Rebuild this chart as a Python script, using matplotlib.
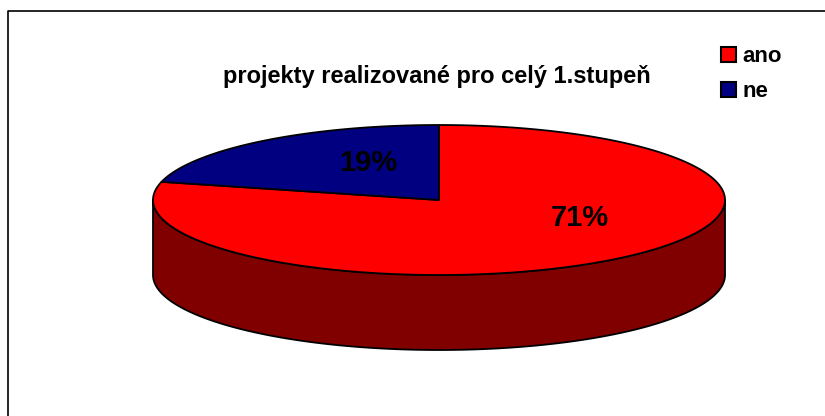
import numpy as np
import matplotlib
matplotlib.use("Agg")
import matplotlib.pyplot as plt
from matplotlib.patches import Polygon, Rectangle

labels = ["ano", "ne"]
values = [71, 19]
pct_text = ["71%", "19%"]
top_colors = ["#ff0000", "#000080"]
side_colors = ["#800000", "#000040"]
title = "projekty realizované pro celý 1.stupeň"

plt.rcParams['font.family'] = ['Liberation Sans', 'DejaVu Sans']

W, H = 825, 416
fig = plt.figure(figsize=(W / 100, H / 100), dpi=100)
ax = fig.add_axes([0, 0, 1, 1])
ax.set_xlim(0, W)
ax.set_ylim(H, 0)
ax.axis("off")

# pie geometry in pixels
cx, cy = 439, 200
a, b = 286, 75
depth = 75

def pt(t, dy=0):
    t = np.radians(t)
    return np.column_stack([cx + a * np.cos(t), cy - b * np.sin(t) + dy])

# slice angles, clockwise from 12 o'clock
vals = np.array(values, float)
spans = vals / vals.sum() * 360
starts = 90 - np.concatenate([[0], np.cumsum(spans)[:-1]])
ends = starts - spans

# side walls (only the front half, 180..360 deg, is visible)
for s, e, col in zip(starts, ends, side_colors):
    lo, hi = min(s, e), max(s, e)
    for k in (-360, 0):
        l2, h2 = max(lo + k, -180), min(hi + k, 0)
        if h2 > l2:
            t = np.linspace(l2, h2, 200)
            poly = np.vstack([pt(t), pt(t[::-1], depth)])
            ax.add_patch(Polygon(poly, closed=True, fc=col, ec="black", lw=1.3, joinstyle="round"))

# top faces
for s, e, col in zip(starts, ends, top_colors):
    t = np.linspace(s, e, 300)
    poly = np.vstack([[[cx, cy]], pt(t)])
    ax.add_patch(Polygon(poly, closed=True, fc=col, ec="black", lw=1.3, joinstyle="round"))

# percentage labels
label_pos = [(580, 218), (368, 163)]
for txt, (x, y) in zip(pct_text, label_pos):
    ax.text(x, y, txt, ha="center", va="center", fontsize=21, fontweight="bold", color="black")

ax.text(437, 83, title, ha="center", va="baseline", fontsize=17, fontweight="bold")

# legend
for i, (lab, col) in enumerate(zip(labels, top_colors)):
    y0 = 47 + i * 34.5
    ax.add_patch(Rectangle((721, y0), 14.5, 15, fc=col, ec="black", lw=1.5))
    ax.text(742, y0 + 15.5, lab, ha="left", va="baseline", fontsize=16, fontweight="bold")

# chart border (cropped at right and bottom)
ax.plot([8, 8, W + 5], [H + 5, 11, 11], color="black", lw=1.2, clip_on=False)

fig.savefig("out.png", dpi=100)
